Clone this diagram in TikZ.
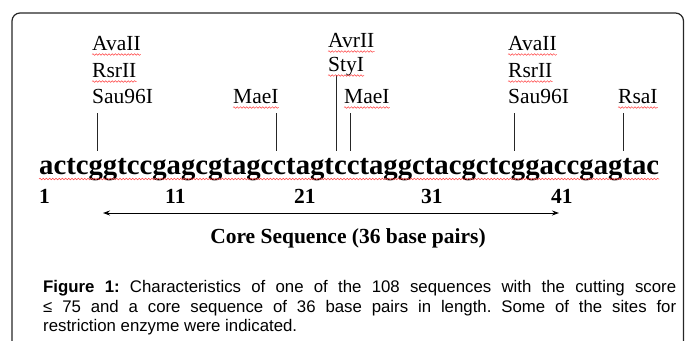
\documentclass[tikz,border=0pt]{standalone}
\usepackage{fontspec}
\setmainfont{Liberation Serif}
\newfontfamily\arialfont{Liberation Sans}
\usetikzlibrary{arrows.meta,decorations.pathmorphing}
\frenchspacing
\begin{document}
\begin{tikzpicture}[x=1pt,y=-1pt,
  lbl/.style={anchor=base west,inner sep=0pt,font=\fontsize{21.5}{26}\selectfont},
  seqtxt/.style={anchor=base west,inner sep=0pt,font=\fontsize{28.7}{32}\selectfont\bfseries},
  numtxt/.style={anchor=base west,inner sep=0pt,font=\fontsize{21.5}{24}\selectfont\bfseries},
  coretxt/.style={anchor=base,inner sep=0pt,font=\fontsize{21.5}{26}\selectfont\bfseries},
  captxt/.style={anchor=base west,inner sep=0pt,font=\arialfont\fontsize{16.8}{20}\selectfont},
  cut/.style={line width=0.9pt,black!85},
  squig/.style={draw=red!75,line width=0.5pt,decorate,decoration={snake,segment length=3.2pt,amplitude=0.8pt}},
  frame/.style={draw=black!85,line width=1.2pt,rounded corners=8pt}]
\useasboundingbox (0,0) rectangle (685,340);
\clip (0,0) rectangle (685,340);
\draw[frame] (12,360) -- (12,13) -- (683.5,13) -- (683.5,360);

% enzyme labels
\node[lbl] (ava1) at (92,50) {AvaII};
\node[lbl] (rsr1) at (92,77) {RsrII};
\node[lbl] (sau1) at (92,103) {Sau96I};
\node[lbl] (mae1) at (233,103) {MaeI};
\node[lbl] (avr) at (328,47) {AvrII};
\node[lbl] (sty) at (328,71) {StyI};
\node[lbl] (mae2) at (344,103) {MaeI};
\node[lbl] (ava2) at (508,50) {AvaII};
\node[lbl] (rsr2) at (508,77) {RsrII};
\node[lbl] (sau2) at (508,103) {Sau96I};
\node[lbl] (rsa) at (618,103) {RsaI};

% sequence and numbering
\node[seqtxt] (seq) at (39,174) {actcggtccgagcgtagcctagtcctaggctacgctcggaccgagtac};
\node[numtxt] (n1) at (39,203) {1};
\node[numtxt] (n11) at (165,203) {11};
\node[numtxt] (n21) at (294,203) {21};
\node[numtxt] (n31) at (421,203) {31};
\node[numtxt] (n41) at (551,203) {41};

% cut lines
\foreach \nm/\xx/\yt in {c1/97/113, c2/276/113, c3/336/75, c4/350/113, c5/514/113, c6/623/113}{
  \coordinate (\nm t) at (\xx,\yt);
  \coordinate (\nm b) at (\xx,151);
  \draw[cut] (\nm t) -- (\nm b);
}

% spell-check squiggles
\foreach \n in {ava1,rsr1,mae1,avr,sty,mae2,ava2,rsr2,rsa}{
  \draw[squig] ([yshift=-4.5pt]\n.base west) -- ([yshift=-4.5pt]\n.base east);
}
\draw[squig] ([yshift=-5pt]seq.base west) -- ([yshift=-5pt]seq.base east);

% core sequence arrow
\coordinate (al) at (103,213);
\coordinate (ar) at (559,213);
\draw[line width=0.9pt,{Stealth[length=7pt,width=5pt]}-{Stealth[length=7pt,width=5pt]}] (al) -- (ar);
\node[coretxt] (core) at (348,243) {Core Sequence (36 base pairs)};

% caption
\node[captxt] (cap1) at (43,292) {\makebox[633pt][s]{\textbf{Figure 1:} Characteristics of one of the 108 sequences with the cutting score}};
\node[captxt] (cap2) at (43,312) {\makebox[633pt][s]{≤ 75 and a core sequence of 36 base pairs in length. Some of the sites for}};
\node[captxt] (cap3) at (43,331) {restriction enzyme were indicated.};
\end{tikzpicture}
\end{document}
